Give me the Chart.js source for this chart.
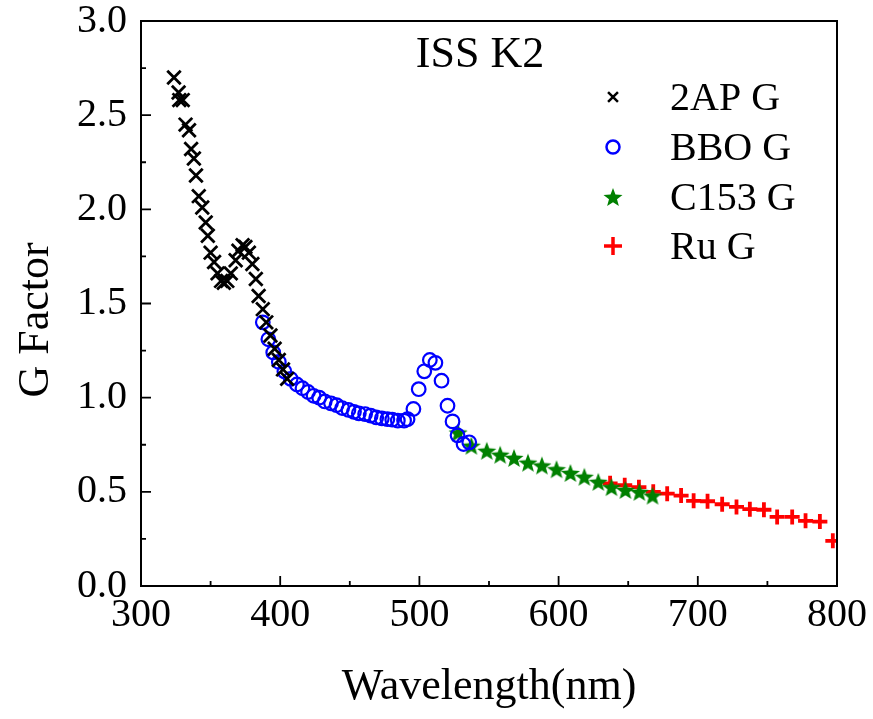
<!DOCTYPE html>
<html>
<head>
<meta charset="utf-8">
<script src="https://cdn.jsdelivr.net/npm/chart.js@4/dist/chart.umd.min.js"></script>
<style>
  html, body { margin: 0; padding: 0; background: #fff; }
  #wrap { width: 873px; height: 719px; }
</style>
</head>
<body>
<div id="wrap"><canvas id="c" width="873" height="719"></canvas></div>
<script>
// G factor vs wavelength for four reference dyes (ISS K2).

const ap2Wl = [323.7, 327, 327.5, 330, 332, 334.5, 336, 338, 339.5, 341.5, 344, 346.5, 348, 350, 352.5,
  355, 357.5, 359.5, 362, 364.5, 368, 370, 373, 375, 377.5, 380, 382.5, 384.5, 387.5, 390, 393, 396, 399, 402, 405];
const ap2G = [2.70, 2.62, 2.58, 2.58, 2.45, 2.42, 2.32, 2.27, 2.18, 2.07, 2.01, 1.93, 1.86, 1.77, 1.72,
  1.66, 1.62, 1.61, 1.62, 1.66, 1.73, 1.78, 1.81, 1.80, 1.77, 1.71, 1.63, 1.54, 1.47, 1.40, 1.33, 1.26, 1.20, 1.15, 1.10];

const bboWl = [387.5, 391.5, 395, 399, 403, 407.5, 412, 416, 420, 424, 428, 432, 436.5, 440.5, 444.5, 449,
  453, 456.5, 461, 465, 469, 473, 477, 480.5, 484.5, 489, 491.5, 495.7, 499.5, 503.5, 507.5, 511.5,
  515.9, 520.2, 523.8, 527.4, 531.7, 535.8];
const bboG = [1.40, 1.31, 1.24, 1.19, 1.14, 1.10, 1.07, 1.05, 1.03, 1.01, 1.00, 0.98, 0.97, 0.96, 0.945, 0.935,
  0.925, 0.917, 0.913, 0.905, 0.895, 0.89, 0.886, 0.883, 0.878, 0.878, 0.886, 0.94, 1.045, 1.14, 1.20, 1.185,
  1.09, 0.957, 0.874, 0.80, 0.754, 0.763];

const c153Wl = [527.8, 537.3, 548.4, 558, 568, 578, 588, 598.5, 608.5, 618.5, 628.5, 638, 648, 658, 667.5];
const c153G = [0.815, 0.745, 0.718, 0.697, 0.68, 0.655, 0.64, 0.62, 0.60, 0.58, 0.553, 0.525, 0.51, 0.50, 0.48];

const ruWl = [637, 647.5, 657.7, 668, 678, 688, 697, 707, 717.5, 727.8, 737.4, 747.5, 757, 767.8, 777.4, 787.7, 797];
const ruG = [0.545, 0.535, 0.525, 0.50, 0.49, 0.48, 0.452, 0.45, 0.434, 0.42, 0.408, 0.405, 0.367, 0.367, 0.346, 0.342, 0.24];

const seriesNames = ['2AP G', 'BBO G', 'C153 G', 'Ru G'];
const xTicks = [300, 400, 500, 600, 700, 800];
const yTicks = [0, 0.5, 1.0, 1.5, 2.0, 2.5, 3.0];

const FONT = "'Liberation Serif', 'Times New Roman', serif";
const pts = (xs, ys) => xs.map((x, i) => ({ x, y: ys[i] }));

// filled five-point star, used as an image pointStyle
function starImage(size, colour) {
  const c = document.createElement('canvas');
  c.width = c.height = size;
  const g = c.getContext('2d');
  const cx = size / 2, cy = size / 2 + size * 0.05, ro = size / 2, ri = ro * 0.42;
  g.beginPath();
  for (let i = 0; i < 10; i++) {
    const r = i % 2 ? ri : ro;
    const a = -Math.PI / 2 + i * Math.PI / 5;
    g.lineTo(cx + r * Math.cos(a), cy + r * Math.sin(a));
  }
  g.closePath();
  g.fillStyle = colour;
  g.fill();
  return c;
}
const star = starImage(20, '#008000');
const starLegend = starImage(20, '#008000');

const datasets = [
  { label: seriesNames[0], data: pts(ap2Wl, ap2G), pointStyle: 'crossRot', pointRadius: 9.5,
    borderColor: '#000', backgroundColor: '#000', pointBorderWidth: 2.8 },
  { label: seriesNames[1], data: pts(bboWl, bboG), pointStyle: 'circle', pointRadius: 6.8,
    borderColor: '#0000ff', backgroundColor: 'rgba(0,0,0,0)', pointBorderWidth: 2.2 },
  { label: seriesNames[2], data: pts(c153Wl, c153G), pointStyle: star, pointRadius: 10,
    borderColor: '#008000', backgroundColor: '#008000' },
  { label: seriesNames[3], data: pts(ruWl, ruG), pointStyle: 'cross', pointRadius: 7.5,
    borderColor: '#ff0000', backgroundColor: '#ff0000', pointBorderWidth: 3.8 },
];

const legendStyles = [
  { pointStyle: 'crossRot', radius: 7, borderWidth: 2.5, borderColor: '#000', backgroundColor: '#000' },
  { pointStyle: 'circle', radius: 6.5, borderWidth: 2.5, borderColor: '#0000ff', backgroundColor: 'rgba(0,0,0,0)' },
  { pointStyle: starLegend, radius: 10, borderWidth: 0, borderColor: '#008000', backgroundColor: '#008000' },
  { pointStyle: 'cross', radius: 9, borderWidth: 3.5, borderColor: '#ff0000', backgroundColor: '#ff0000' },
];

// frame, inward ticks, titles and in-plot legend
const decor = {
  id: 'decor',
  afterDraw(chart) {
    const { ctx, chartArea: a, scales: { x, y } } = chart;
    ctx.save();
    ctx.strokeStyle = '#000';
    ctx.lineWidth = 2;
    ctx.strokeRect(a.left, a.top, a.right - a.left, a.bottom - a.top);

    ctx.lineWidth = 1.8;
    ctx.beginPath();
    xTicks.forEach((v, i) => {
      const px = x.getPixelForValue(v);
      ctx.moveTo(px, a.bottom); ctx.lineTo(px, a.bottom - 10);
      if (i < xTicks.length - 1) {
        const mx = x.getPixelForValue((v + xTicks[i + 1]) / 2);
        ctx.moveTo(mx, a.bottom); ctx.lineTo(mx, a.bottom - 5);
      }
    });
    yTicks.forEach((v, i) => {
      const py = y.getPixelForValue(v);
      ctx.moveTo(a.left, py); ctx.lineTo(a.left + 10, py);
      if (i < yTicks.length - 1) {
        const my = y.getPixelForValue((v + yTicks[i + 1]) / 2);
        ctx.moveTo(a.left, my); ctx.lineTo(a.left + 5, my);
      }
    });
    ctx.stroke();

    ctx.fillStyle = '#000';
    ctx.textAlign = 'center';
    ctx.textBaseline = 'middle';
    ctx.font = `44px ${FONT}`;
    ctx.fillText('ISS K2', 480, 55);
    ctx.fillText('Wavelength(nm)', (a.left + a.right) / 2, 687);
    ctx.save();
    ctx.translate(36, 320);
    ctx.rotate(-Math.PI / 2);
    ctx.fillText('G Factor', 0, 0);
    ctx.restore();

    ctx.font = `40px ${FONT}`;
    ctx.textAlign = 'left';
    const rows = [97, 147, 197, 246];
    seriesNames.forEach((name, i) => {
      const st = legendStyles[i];
      ctx.save();
      ctx.strokeStyle = st.borderColor;
      ctx.fillStyle = st.backgroundColor;
      ctx.lineWidth = st.borderWidth;
      Chart.helpers.drawPoint(ctx, st, 613, rows[i]);
      ctx.restore();
      ctx.fillStyle = '#000';
      ctx.fillText(name, 670, rows[i] + 2);
    });
    ctx.restore();
  },
};

new Chart(document.getElementById('c'), {
  type: 'scatter',
  data: { datasets },
  options: {
    responsive: false,
    animation: false,
    devicePixelRatio: 1,
    layout: { padding: { left: 0, top: 21, right: 36, bottom: 0 } },
    plugins: { legend: { display: false }, tooltip: { enabled: false } },
    scales: {
      x: {
        type: 'linear', min: 300, max: 800,
        afterFit: (s) => { s.height = 133; s.paddingLeft = 0; s.paddingRight = 0; },
        afterBuildTicks: (s) => { s.ticks = xTicks.map((v) => ({ value: v })); },
        grid: { display: false },
        border: { display: false },
        ticks: { color: '#000', padding: -3, font: { family: FONT, size: 40 }, maxRotation: 0 },
      },
      y: {
        type: 'linear', min: 0, max: 3,
        afterFit: (s) => { s.width = 141; s.paddingTop = 0; s.paddingBottom = 0; },
        afterBuildTicks: (s) => { s.ticks = yTicks.map((v) => ({ value: v })); },
        grid: { display: false },
        border: { display: false },
        ticks: { color: '#000', padding: 6, font: { family: FONT, size: 40 }, callback: (v) => v.toFixed(1) },
      },
    },
  },
  plugins: [decor],
});
</script>
</body>
</html>
